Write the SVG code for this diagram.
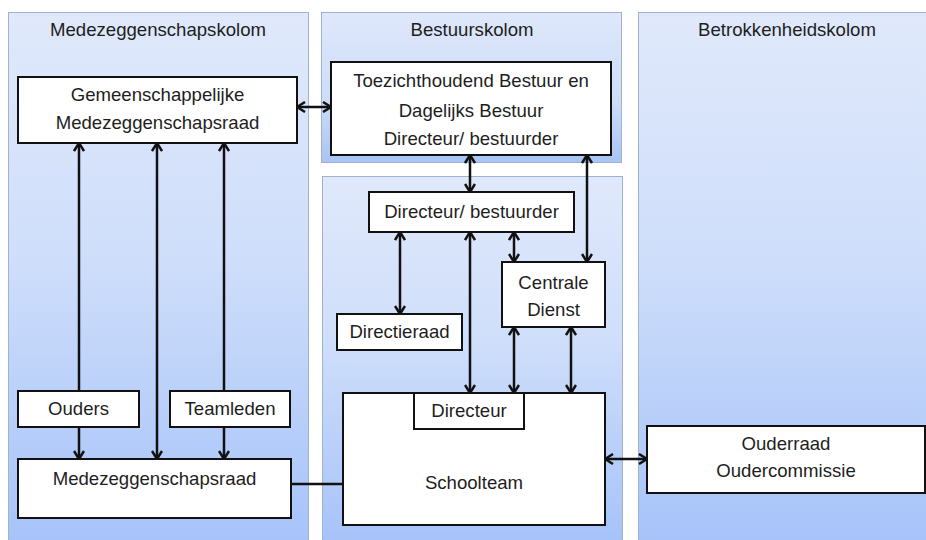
<svg xmlns="http://www.w3.org/2000/svg" width="926" height="540" viewBox="0 0 926 540">
<style>
.panel{stroke:#9fb3d1;stroke-width:1}
.box{fill:#fff;stroke:#111;stroke-width:2}
.t{font-family:"Liberation Sans",Arial,sans-serif;font-size:18.6px;fill:#1e1e1e;text-anchor:middle}
.c{stroke:#111;stroke-width:2.5;fill:none}
.a2{marker-start:url(#ah);marker-end:url(#ah)}
.a1{marker-end:url(#ah)}
</style>
<defs>
<linearGradient id="g" x1="0" y1="0" x2="0" y2="1">
<stop offset="0" stop-color="#e0e9fb"/>
<stop offset="0.45" stop-color="#cfdefa"/>
<stop offset="1" stop-color="#a5c2f9"/>
</linearGradient>
<linearGradient id="gs" x1="0" y1="0" x2="0" y2="1">
<stop offset="0" stop-color="#dfe8fb"/>
<stop offset="0.6" stop-color="#ccdcf8"/>
<stop offset="1" stop-color="#a8c4f5"/>
</linearGradient>
<marker id="ah" viewBox="0 0 12 12" refX="10.5" refY="6" markerWidth="12" markerHeight="12" markerUnits="userSpaceOnUse" orient="auto-start-reverse">
<path d="M2.5,1 L10.5,6 L2.5,11" fill="none" stroke="#111" stroke-width="2.5"/>
</marker>
</defs>
<rect width="926" height="540" fill="#fff"/>
<g id="columns">
<rect class="panel" x="8.5" y="12.5" width="300" height="540" fill="url(#g)"/>
<rect class="panel" x="321.5" y="12.5" width="300" height="150" fill="url(#gs)"/>
<rect class="panel" x="322.5" y="176.5" width="300" height="370" fill="url(#g)"/>
<rect class="panel" x="638.5" y="12.5" width="300" height="540" fill="url(#g)"/>
<text class="t" x="158" y="36">Medezeggenschapskolom</text>
<text class="t" x="472" y="36">Bestuurskolom</text>
<text class="t" x="787" y="36">Betrokkenheidskolom</text>
</g>
<g id="connectors">
<line class="c a2" x1="297" y1="107" x2="331" y2="107"/>
<line class="c a2" x1="470" y1="155" x2="470" y2="192"/>
<line class="c a2" x1="587" y1="155" x2="587" y2="262"/>
<line class="c a2" x1="400" y1="232" x2="400" y2="314"/>
<line class="c a2" x1="514" y1="232" x2="514" y2="262"/>
<line class="c a2" x1="470" y1="232" x2="470" y2="393"/>
<line class="c a2" x1="514" y1="327" x2="514" y2="393"/>
<line class="c a2" x1="571" y1="327" x2="571" y2="393"/>
<line class="c a2" x1="157" y1="143" x2="157" y2="459"/>
<path class="c" d="M79,391 V143" marker-end="url(#ah)"/>
<path class="c" d="M224,391 V143" marker-end="url(#ah)"/>
<line class="c a1" x1="79" y1="427" x2="79" y2="459"/>
<line class="c a1" x1="224" y1="427" x2="224" y2="459"/>
<line class="c" x1="291" y1="484" x2="343" y2="484"/>
<line class="c a2" x1="605" y1="459" x2="647" y2="459"/>
</g>
<g id="gmr">
<rect class="box" x="18" y="77" width="279" height="66"/>
<text class="t" x="157.5" y="101">Gemeenschappelijke</text>
<text class="t" x="157.5" y="129">Medezeggenschapsraad</text>
</g>
<g id="toezicht">
<rect class="box" x="331" y="62" width="280" height="93"/>
<text class="t" x="471" y="87">Toezichthoudend Bestuur en</text>
<text class="t" x="471" y="117">Dagelijks Bestuur</text>
<text class="t" x="471" y="145">Directeur/ bestuurder</text>
</g>
<g id="directeur-bestuurder">
<rect class="box" x="369" y="192" width="205" height="40"/>
<text class="t" x="471.5" y="218">Directeur/ bestuurder</text>
</g>
<g id="centrale-dienst">
<rect class="box" x="502" y="262" width="103" height="65"/>
<text class="t" x="553.5" y="289">Centrale</text>
<text class="t" x="553.5" y="316">Dienst</text>
</g>
<g id="directieraad">
<rect class="box" x="337" y="314" width="125" height="36"/>
<text class="t" x="399.5" y="338">Directieraad</text>
</g>
<g id="schoolteam">
<rect class="box" x="343" y="393" width="262" height="132"/>
<text class="t" x="474" y="489">Schoolteam</text>
</g>
<g id="directeur">
<rect class="box" x="414" y="393" width="110" height="36"/>
<text class="t" x="469" y="417">Directeur</text>
</g>
<g id="ouderraad">
<rect class="box" x="647" y="426" width="278" height="67"/>
<text class="t" x="786" y="450">Ouderraad</text>
<text class="t" x="786" y="477">Oudercommissie</text>
</g>
<g id="ouders">
<rect class="box" x="18" y="391" width="121" height="36"/>
<text class="t" x="78.5" y="415">Ouders</text>
</g>
<g id="teamleden">
<rect class="box" x="170" y="391" width="120" height="36"/>
<text class="t" x="230" y="415">Teamleden</text>
</g>
<g id="mr">
<rect class="box" x="18" y="459" width="273" height="59"/>
<text class="t" x="154.5" y="485">Medezeggenschapsraad</text>
</g>
</svg>
